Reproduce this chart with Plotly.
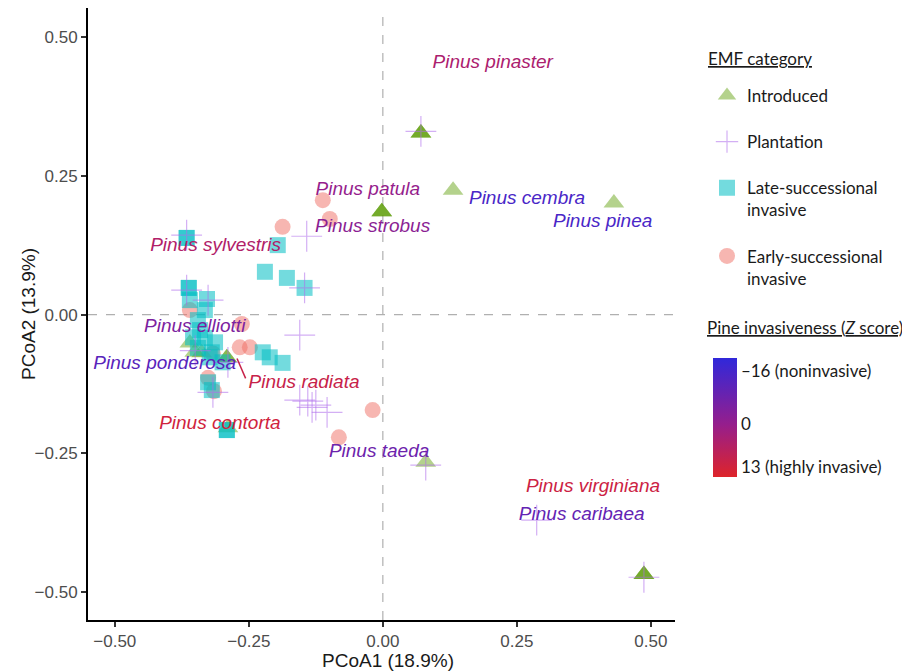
import plotly.graph_objects as go
from plotly.colors import sample_colorscale

# ---------------- data ----------------
intro_x = [0.071, 0.071, 0.071, 0.131, -0.002, -0.002, -0.002, 0.431, 0.080,
           0.487, 0.487, 0.487, -0.360, -0.351, -0.338, -0.291, -0.291, -0.289]
intro_y = [0.327, 0.327, 0.327, 0.224, 0.185, 0.185, 0.185, 0.201, -0.266,
           -0.468, -0.468, -0.468, -0.051, -0.068, -0.069, -0.078, -0.078, -0.204]

plant_x = [0.071, -0.142, -0.366, -0.366, -0.326, -0.146, -0.155, -0.350, -0.289,
           -0.317, -0.155, -0.140, -0.132, -0.125, -0.104, 0.080, 0.287, 0.487]
plant_y = [0.330, 0.141, 0.143, 0.044, 0.026, 0.048, -0.037, -0.065, -0.086,
           -0.140, -0.154, -0.156, -0.167, -0.163, -0.176, -0.271, -0.370, -0.473]

late_x = [-0.366, -0.366, -0.196, -0.220, -0.179, -0.146, -0.362, -0.362, -0.360,
          -0.328, -0.332, -0.345, -0.341, -0.354, -0.332, -0.313, -0.345, -0.319,
          -0.323, -0.299, -0.224, -0.211, -0.187, -0.326, -0.319, -0.291, -0.291]
late_y = [0.138, 0.138, 0.125, 0.077, 0.066, 0.048, 0.048, 0.048, 0.026,
          0.028, 0.008, -0.010, -0.028, -0.041, -0.042, -0.050, -0.060, -0.068,
          -0.077, -0.086, -0.068, -0.077, -0.087, -0.122, -0.136, -0.208, -0.208]

early_x = [-0.112, -0.099, -0.187, -0.360, -0.263, -0.267, -0.248, -0.326,
           -0.315, -0.019, -0.082, -0.317]
early_y = [0.206, 0.172, 0.158, 0.008, -0.017, -0.059, -0.059, -0.114,
           -0.138, -0.172, -0.221, -0.070]

species = ["Pinus pinaster", "Pinus patula", "Pinus cembra", "Pinus pinea",
           "Pinus strobus", "Pinus sylvestris", "Pinus elliotti", "Pinus ponderosa",
           "Pinus radiata", "Pinus contorta", "Pinus taeda", "Pinus virginiana",
           "Pinus caribaea"]
species_x = [0.205, -0.028, 0.269, 0.410, -0.019, -0.312, -0.351, -0.407,
             -0.147, -0.304, -0.007, 0.392, 0.371]
species_y = [0.453, 0.224, 0.208, 0.167, 0.158, 0.123, -0.023, -0.089,
             -0.123, -0.197, -0.248, -0.311, -0.361]
species_z = [5, 0, -15, -15, -2, 6, -5, -12, 11, 13, -8, 12, -10]

# leader line for Pinus radiata label
radiata_line_x = [-0.272, -0.256]
radiata_line_y = [-0.079, -0.115]

tick_vals = [-0.5, -0.25, 0, 0.25, 0.5]
cbar_tickvals = [16, 0, -13]
cbar_ticktext = ["\u201316 (noninvasive)", "0", "13 (highly invasive)"]

# ---------------- styling ----------------
CMIN, CMAX = -16, 20
colorscale = [[0.0, "rgb(222,36,42)"], [0.44, "rgb(150,30,140)"], [1.0, "rgb(48,40,218)"]]
neg_z = [-z for z in species_z]
text_colors = sample_colorscale(colorscale, [(v - CMIN) / (CMAX - CMIN) for v in neg_z])

# the page body has an 8px margin, so the figure is drawn 8px right/down
OFF = 8
W, H = 902, 664
ML, MR, MT, MB = 80, 235, 0, 52
PW, PH = W - ML - MR, H - MT - MB


def px_x(p):
    return (p - OFF - ML) / PW


def px_y(p):
    return (H - MB - (p - OFF)) / PH


LEG_FONT = dict(family="Lato", size=17, color="#1a1a1a")
AX_TITLE_FONT = dict(family="Liberation Sans", size=19, color="#1a1a1a")

fig = go.Figure()

fig.add_trace(go.Scatter(
    x=intro_x, y=intro_y, mode="markers", name="Introduced",
    legendgroup="a", legendrank=1,
    marker=dict(symbol="triangle-up", size=18, color="rgb(89,155,0)", opacity=0.45,
                line=dict(width=0))))
fig.add_trace(go.Scatter(
    x=early_x, y=early_y, mode="markers", name="Early-successional<br>invasive",
    legendgroup="d", legendrank=4,
    marker=dict(symbol="circle", size=16, color="rgb(240,110,100)", opacity=0.5,
                line=dict(width=0))))
fig.add_trace(go.Scatter(
    x=late_x, y=late_y, mode="markers", name="Late-successional<br>invasive",
    legendgroup="c", legendrank=3,
    marker=dict(symbol="square", size=16, color="rgb(0,190,195)", opacity=0.55,
                line=dict(width=0))))
fig.add_trace(go.Scatter(
    x=plant_x, y=plant_y, mode="markers", name="Plantation",
    legendgroup="b", legendrank=2,
    marker=dict(symbol="cross-thin", size=22,
                line=dict(width=1.2, color="rgba(175,110,235,0.55)"))))

# leader line
fig.add_trace(go.Scatter(
    x=radiata_line_x, y=radiata_line_y, mode="lines", showlegend=False,
    line=dict(color=text_colors[8], width=1.5), hoverinfo="skip"))

# species labels
fig.add_trace(go.Scatter(
    x=species_x, y=species_y, mode="text", text=species, showlegend=False,
    textposition="middle center",
    textfont=dict(family="Liberation Sans", size=19, color=text_colors, style="italic"),
    hoverinfo="skip"))

# colour bar carrier
fig.add_trace(go.Scatter(
    x=species_x, y=species_y, mode="markers", showlegend=False, hoverinfo="skip",
    marker=dict(size=1, opacity=0, color=neg_z, colorscale=colorscale,
                cmin=CMIN, cmax=CMAX, showscale=True,
                colorbar=dict(x=px_x(713), xanchor="left", xpad=0, ypad=0,
                              y=px_y(417.5), yanchor="middle",
                              len=119, lenmode="pixels", thickness=24,
                              outlinewidth=0, ticks="", ticklen=0,
                              tickvals=cbar_tickvals, ticktext=cbar_ticktext,
                              tickfont=LEG_FONT))))

axis_common = dict(
    showgrid=False, zeroline=False, showline=True, linecolor="black", linewidth=2,
    ticks="outside", ticklen=5, tickwidth=1.5, tickcolor="#333",
    tickfont=dict(family="Liberation Sans", size=17, color="#4d4d4d"),
    tickformat=".2f", mirror=False, automargin=False, tickvals=tick_vals,
)

fig.update_layout(
    width=W, height=H,
    margin=dict(l=ML, r=MR, t=MT, b=MB, autoexpand=False),
    paper_bgcolor="white", plot_bgcolor="white",
    xaxis=dict(range=[-0.55, 0.545], **axis_common),
    yaxis=dict(range=[-0.55, 0.552], **axis_common),
    legend=dict(x=px_x(707), xanchor="left", y=px_y(78), yanchor="top",
                font=LEG_FONT, tracegroupgap=21, valign="top",
                traceorder="grouped", bgcolor="rgba(0,0,0,0)"),
    shapes=[
        dict(type="line", xref="x", yref="paper", x0=0, x1=0, y0=0, y1=1,
             line=dict(color="#b0b0b0", width=1.2, dash="dash"), layer="below"),
        dict(type="line", xref="paper", yref="y", x0=0, x1=1, y0=0, y1=0,
             line=dict(color="#b0b0b0", width=1.2, dash="dash"), layer="below"),
    ],
    annotations=[
        dict(text="PCoA1 (18.9%)", xref="paper", yref="paper",
             x=px_x(388), y=px_y(660), xanchor="center", yanchor="middle",
             showarrow=False, font=AX_TITLE_FONT),
        dict(text="PCoA2 (13.9%)", xref="paper", yref="paper", textangle=-90,
             x=px_x(28), y=px_y(314), xanchor="center", yanchor="middle",
             showarrow=False, font=AX_TITLE_FONT),
        dict(text="<u>EMF category</u>", xref="paper", yref="paper",
             x=px_x(706), y=px_y(58), xanchor="left", yanchor="middle",
             showarrow=False, font=LEG_FONT),
        dict(text="<u>Pine invasiveness (<i>Z</i> score)</u>", xref="paper", yref="paper",
             x=px_x(705), y=px_y(328), xanchor="left", yanchor="middle",
             showarrow=False, font=LEG_FONT),
    ],
)

fig.write_html("out.html")
